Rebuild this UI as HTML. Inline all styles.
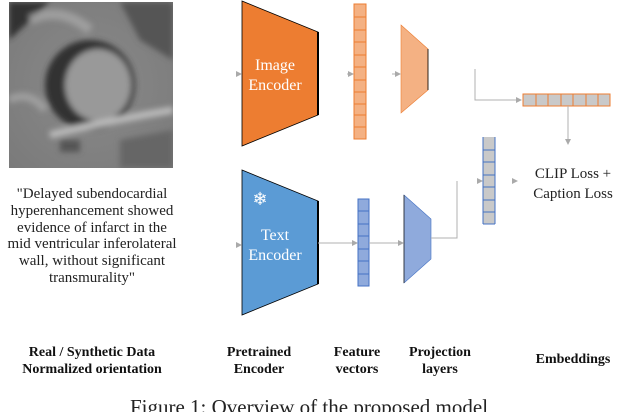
<!DOCTYPE html>
<html><head><meta charset="utf-8"><style>
body{margin:0;background:#fff;}
svg{display:block;}
text{font-family:"Liberation Serif","Times New Roman",serif;}
</style></head><body>
<svg width="618" height="412" viewBox="0 0 618 412" xmlns="http://www.w3.org/2000/svg" font-family="Liberation Serif, serif">
<defs>
<radialGradient id="bg" cx="0.5" cy="0.5" r="0.7">
<stop offset="0" stop-color="#8a8a8a"/><stop offset="1" stop-color="#7a7a7a"/></radialGradient>
<filter id="bl"><feGaussianBlur stdDeviation="3"/></filter>
<clipPath id="cp"><rect x="9" y="2" width="164" height="166"/></clipPath>
<marker id="a" markerWidth="6" markerHeight="6" refX="5" refY="3" orient="auto"><path d="M0,0 L6,3 L0,6z" fill="#aaa"/></marker>
</defs>
<g clip-path="url(#cp)">
<rect x="9" y="2" width="164" height="166" fill="url(#bg)"/>
<g filter="url(#bl)">
<path d="M9,2 L50,2 L9,40z" fill="#333"/>
<path d="M120,2 L173,2 L173,60 L140,40z" fill="#555"/>
<path d="M30,20 Q60,5 90,30" stroke="#aaa" stroke-width="10" fill="none" opacity="0.7"/>
<ellipse cx="90" cy="85" rx="45" ry="45" fill="#333"/>
<ellipse cx="98" cy="85" rx="33" ry="36" fill="#999"/>
<path d="M50,135 Q110,120 173,110" stroke="#bbb" stroke-width="7" fill="none"/>
<path d="M9,100 Q30,90 45,110" stroke="#aaa" stroke-width="8" fill="none" opacity="0.7"/>
<path d="M120,140 L173,130 L173,168 L120,168z" fill="#666"/>
<rect x="60" y="140" width="20" height="12" fill="#555"/>
</g>
</g>
<g font-size="15" text-anchor="middle" fill="#222">
<text x="92" y="198">"Delayed subendocardial</text>
<text x="92" y="215">hyperenhancement showed</text>
<text x="92" y="232">evidence of infarct in the</text>
<text x="92" y="248">mid ventricular inferolateral</text>
<text x="92" y="265">wall, without significant</text>
<text x="92" y="282">transmurality"</text>
</g>
<g font-size="14" font-weight="bold" text-anchor="middle" fill="#111">
<text x="92" y="356">Real / Synthetic Data</text>
<text x="92" y="373">Normalized orientation</text>
<text x="259" y="356">Pretrained</text>
<text x="259" y="373">Encoder</text>
<text x="357" y="356">Feature</text>
<text x="357" y="373">vectors</text>
<text x="440" y="356">Projection</text>
<text x="440" y="373">layers</text>
<text x="573" y="363">Embeddings</text>
</g>
<text x="309" y="414" font-size="21" text-anchor="middle" fill="#222">Figure 1: Overview of the proposed model</text>
<polygon points="242,1 318,32 318,115 242,146" fill="#ED7D31" stroke="#000" stroke-width="0.8"/>
<line x1="318" y1="32" x2="318" y2="115" stroke="#000" stroke-width="2"/>
<polygon points="242,170 318,201 318,284 242,315" fill="#5B9BD5" stroke="#000" stroke-width="0.8"/>
<line x1="318" y1="201" x2="318" y2="284" stroke="#000" stroke-width="2"/>
<g font-size="16" fill="#fff" text-anchor="middle">
<text x="275" y="70">Image</text><text x="275" y="90">Encoder</text>
<text x="275" y="240">Text</text><text x="275" y="260">Encoder</text>
</g>
<text x="260" y="205" font-size="18" fill="#fff" text-anchor="middle">❄</text>
<rect x="354" y="4" width="12" height="135" fill="#F4B183" stroke="#ED7D31"/>
<g stroke="#ED7D31" stroke-width="1">
<line x1="354" y1="17" x2="366" y2="17"/><line x1="354" y1="30" x2="366" y2="30"/><line x1="354" y1="42" x2="366" y2="42"/><line x1="354" y1="55" x2="366" y2="55"/><line x1="354" y1="67" x2="366" y2="67"/><line x1="354" y1="80" x2="366" y2="80"/><line x1="354" y1="92" x2="366" y2="92"/><line x1="354" y1="104" x2="366" y2="104"/><line x1="354" y1="115" x2="366" y2="115"/><line x1="354" y1="127" x2="366" y2="127"/>
</g>
<polygon points="401,25 428,49 428,90 401,113" fill="#F4B183" stroke="#ED7D31" stroke-width="0.6"/>
<line x1="428" y1="49" x2="428" y2="90" stroke="#000" stroke-width="0.8"/>
<rect x="358" y="199" width="11" height="87" fill="#8FAADC" stroke="#4472C4"/>
<g stroke="#4472C4">
<line x1="358" y1="211" x2="369" y2="211"/><line x1="358" y1="224" x2="369" y2="224"/><line x1="358" y1="236" x2="369" y2="236"/><line x1="358" y1="249" x2="369" y2="249"/><line x1="358" y1="261" x2="369" y2="261"/><line x1="358" y1="274" x2="369" y2="274"/>
</g>
<polygon points="404,195 431,219 431,259 404,283" fill="#8FAADC" stroke="#4472C4" stroke-width="0.6"/>
<line x1="404" y1="195" x2="404" y2="283" stroke="#222" stroke-width="0.8"/>
<rect x="483" y="137" width="12" height="87" fill="#c9c9c9"/>
<g stroke="#4472C4"><line x1="483" y1="137" x2="483" y2="224"/><line x1="495" y1="137" x2="495" y2="224"/><line x1="483" y1="150" x2="495" y2="150"/><line x1="483" y1="162" x2="495" y2="162"/><line x1="483" y1="175" x2="495" y2="175"/><line x1="483" y1="187" x2="495" y2="187"/><line x1="483" y1="200" x2="495" y2="200"/><line x1="483" y1="212" x2="495" y2="212"/><line x1="483" y1="224" x2="495" y2="224"/></g>
<rect x="523" y="94" width="87" height="12" fill="#c9c9c9" stroke="#ED7D31"/>
<g stroke="#ED7D31"><line x1="536" y1="94" x2="536" y2="106"/><line x1="548" y1="94" x2="548" y2="106"/><line x1="561" y1="94" x2="561" y2="106"/><line x1="573" y1="94" x2="573" y2="106"/><line x1="586" y1="94" x2="586" y2="106"/><line x1="598" y1="94" x2="598" y2="106"/></g>
<g stroke="#b0b0b0" stroke-width="1" fill="none">
<line x1="236" y1="74" x2="241" y2="74" marker-end="url(#a)"/>
<line x1="236" y1="245" x2="241" y2="245" marker-end="url(#a)"/>
<line x1="347" y1="74" x2="353" y2="74" marker-end="url(#a)"/>
<line x1="392" y1="74" x2="400" y2="74" marker-end="url(#a)"/>
<polyline points="475,69 475,100 521,100" marker-end="url(#a)"/>
<line x1="568" y1="106" x2="568" y2="144" marker-end="url(#a)"/>
<line x1="318" y1="243" x2="357" y2="243" marker-end="url(#a)"/>
<line x1="369" y1="243" x2="403" y2="243" marker-end="url(#a)"/>
<polyline points="431,238 457,238 457,181"/>
<line x1="477" y1="181" x2="482" y2="181" marker-end="url(#a)"/>
<line x1="512" y1="181" x2="517" y2="181" marker-end="url(#a)"/>
</g>
<g font-size="15" text-anchor="middle" fill="#222">
<text x="573" y="178">CLIP Loss +</text>
<text x="573" y="198">Caption Loss</text>
</g>
</svg>
</body></html>
